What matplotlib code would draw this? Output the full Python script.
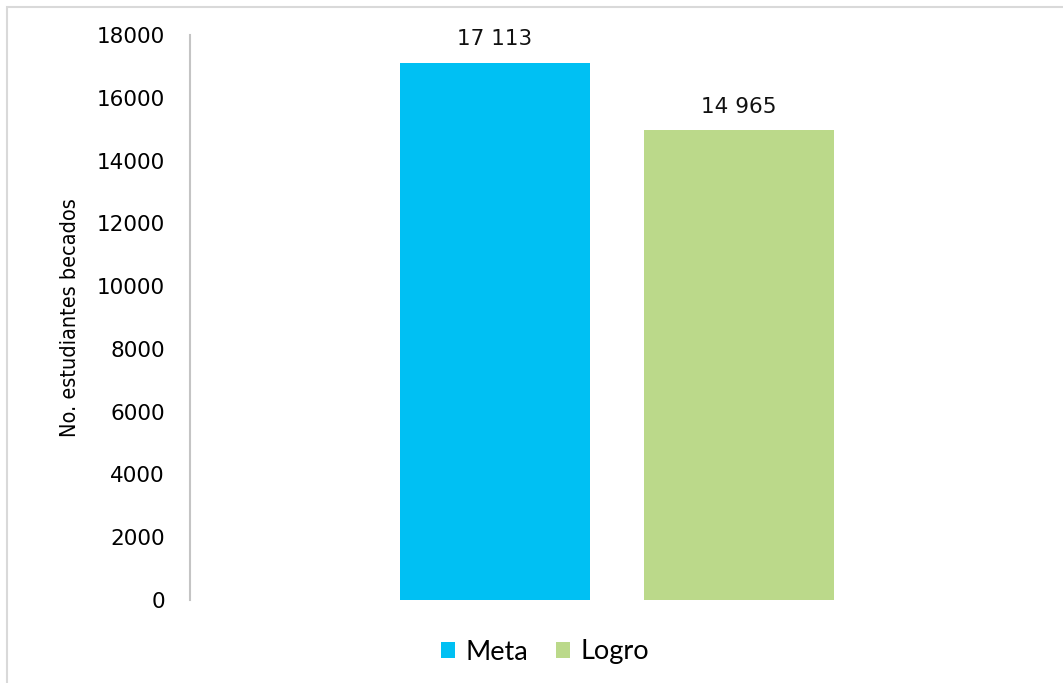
import matplotlib.pyplot as plt
from matplotlib.patches import Rectangle

series = ["Meta", "Logro"]
values = [17113, 14965]
labels = ["17 113", "14 965"]
colors = ["#00C0F3", "#BBD98A"]
yticks = list(range(0, 18001, 2000))

fig = plt.figure(figsize=(10.63, 6.83), dpi=100)
ax = fig.add_axes([190 / 1063, 1 - 600 / 683, (1044 - 190) / 1063, (600 - 35) / 683])

offsets = [-0.1428, 0.1424]
for off, v, lab, c, name in zip(offsets, values, labels, colors, series):
    ax.bar(off, v, width=0.2225, color=c, label=name)
    ax.annotate(lab, (off, v), xytext=(0, 12.5), textcoords="offset points",
                ha="center", va="baseline", fontsize=15.5,
                family="DejaVu Sans", color="#111111")

ax.set_xlim(-0.5, 0.5)
ax.set_ylim(0, 18000)
ax.set_yticks(yticks)
ax.set_yticklabels([str(t) for t in yticks], family="DejaVu Sans", fontsize=15.5)
ax.set_xticks([])
ax.tick_params(axis="y", length=0, pad=18)
for s in ["top", "right", "bottom"]:
    ax.spines[s].set_visible(False)
ax.spines["left"].set_color("#c4c4c4")
ax.spines["left"].set_linewidth(1.5)

ax.set_ylabel("No. estudiantes becados", family="DejaVu Sans", fontstretch="condensed",
              fontsize=15.5, labelpad=12)

leg = ax.legend(loc="center", bbox_to_anchor=(545 / 1063, 1 - 652 / 683),
                bbox_transform=fig.transFigure, ncol=2, frameon=False,
                handlelength=0.52, handleheight=0.52, handletextpad=0.4, columnspacing=1.0,
                prop={"family": "Lato", "size": 19.5})

fig.patches.append(Rectangle((7 / 1063, -0.1), 1.2, 1 - 7 / 683 + 0.1, transform=fig.transFigure,
                             fill=False, edgecolor="#d9d9d9", linewidth=1.5))

fig.savefig("out.png", dpi=100)
